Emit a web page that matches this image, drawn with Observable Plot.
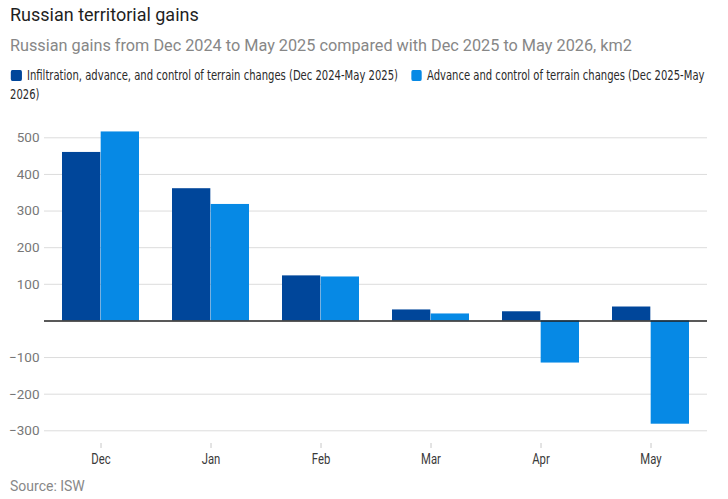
<!DOCTYPE html>
<html>
<head>
<meta charset="utf-8">
<script src="https://cdn.jsdelivr.net/npm/d3@7"></script>
<script src="https://cdn.jsdelivr.net/npm/@observablehq/plot@0.6"></script>
<style>
  html, body { margin: 0; padding: 0; background: #fff; }
  body { width: 728px; height: 499px; position: relative; overflow: hidden; font-family: Roboto, "Noto Sans", sans-serif; }
  #title { position: absolute; left: 10px; top: 4px; font-size: 18px; line-height: 22px; color: #1f1f1f; white-space: nowrap; }
  #subtitle { position: absolute; left: 10px; top: 35px; font-size: 16.25px; line-height: 22px; color: #878787; white-space: nowrap; }
  #legend { position: absolute; left: 10px; top: 66px; font-size: 14px; line-height: 19px; color: #2a2a2a; transform-origin: 0 0;
            font-family: "Liberation Sans Narrow", "DejaVu Sans Condensed", Roboto, sans-serif; }
  #legend .sw { display: inline-block; height: 11px; border-radius: 2px; vertical-align: -1px; }
  #chart { position: absolute; left: 0; top: 108px; }
  #source { position: absolute; left: 10px; top: 477px; font-size: 14px; line-height: 18px; color: #888; white-space: nowrap; }
</style>
</head>
<body>
<div id="title"></div>
<div id="subtitle"></div>
<div id="legend"></div>
<div id="chart"></div>
<div id="source"></div>
<script>
const titleText = "Russian territorial gains";
const subtitleText = "Russian gains from Dec 2024 to May 2025 compared with Dec 2025 to May 2026, km2";
const sourceText = "Source: ISW";

const months = ["Dec", "Jan", "Feb", "Mar", "Apr", "May"];
const seriesNames = [
  "Infiltration, advance, and control of terrain changes (Dec 2024-May 2025)",
  "Advance and control of terrain changes (Dec 2025-May 2026)"
];
const seriesColors = ["#00469a", "#0689e5"];
const values2025 = [460, 361, 123, 30, 25, 38];
const values2026 = [516, 318, 120, 19, -115, -282];
const yTicks = [-300, -200, -100, 100, 200, 300, 400, 500];

document.getElementById("title").textContent = titleText;
document.getElementById("subtitle").textContent = subtitleText;
document.getElementById("source").textContent = sourceText;

// Legend
const legend = document.getElementById("legend");
const parts = seriesNames.map((name, i) => {
  const sw = document.createElement("span");
  sw.className = "sw";
  sw.style.background = seriesColors[i];
  const t = document.createElement("span");
  t.className = "lt";
  t.textContent = name;
  legend.appendChild(sw);
  legend.appendChild(t);
  return {sw, t, name};
});
legend.style.whiteSpace = "nowrap";
const w1 = parts[0].t.getBoundingClientRect().width;
const s = 371 / w1;
legend.style.whiteSpace = "normal";
legend.style.transform = `scaleX(${s})`;
legend.style.width = (708 / s) + "px";
parts.forEach(({sw}, i) => {
  sw.style.width = (11 / s) + "px";
  sw.style.marginRight = (5 / s) + "px";
  sw.style.marginLeft = i === 0 ? (1 / s) + "px" : (13 / s) + "px";
});
// split wrapped labels into one span per line so line boxes don't overlap
parts.forEach(({t, name}) => {
  const words = name.split(" ");
  t.textContent = "";
  const ws = words.map((w, k) => {
    const sp = document.createElement("span");
    sp.textContent = (k ? " " : "") + w;
    t.appendChild(sp);
    return sp;
  });
  const lines = [];
  ws.forEach((sp, k) => {
    const top = Math.round(sp.getBoundingClientRect().bottom);
    if (!lines.length || lines[lines.length - 1].top !== top) lines.push({top, words: []});
    lines[lines.length - 1].words.push(words[k]);
  });
  t.textContent = "";
  lines.forEach((ln, k) => {
    if (k) t.appendChild(document.createElement("br"));
    const sp = document.createElement("span");
    sp.textContent = ln.words.join(" ");
    t.appendChild(sp);
  });
});

const data2025 = months.map((m, i) => ({month: m, value: values2025[i]}));
const data2026 = months.map((m, i) => ({month: m, value: values2026[i]}));

const half = 38.68;
const plot = Plot.plot({
  width: 728,
  height: 367,
  marginLeft: 44,
  marginRight: 21,
  marginTop: 20,
  marginBottom: 32,
  style: {fontFamily: "Roboto, sans-serif", background: "transparent", overflow: "visible", color: "#444"},
  x: {domain: months, paddingInner: 0.3, paddingOuter: 0.15, label: null},
  y: {domain: [-300, 500], range: [322.3, 29.3], label: null},
  marks: [
    Plot.ruleY(yTicks, {stroke: "#dcdcdc", strokeWidth: 1}),
    Plot.barY(data2025, {x: "month", y: "value", fill: seriesColors[0], insetRight: half}),
    Plot.barY(data2026, {x: "month", y: "value", fill: seriesColors[1], insetLeft: half}),
    Plot.ruleY([0], {stroke: "#222", strokeWidth: 1.5}),
    Plot.axisX({tickSize: 5, tickPadding: 5, stroke: "#c8c8c8", fill: "#3a3a3a", fontSize: 14.5}),
    Plot.axisY({ticks: yTicks, tickSize: 0, tickPadding: 5, fill: "#777", fontSize: 13.5})
  ]
});
document.getElementById("chart").appendChild(plot);
plot.querySelectorAll('g[aria-label="x-axis tick label"] text').forEach(t => {
  const tr = t.getAttribute("transform") || "";
  t.setAttribute("transform", tr + " scale(0.78,1)");
});
</script>
</body>
</html>
